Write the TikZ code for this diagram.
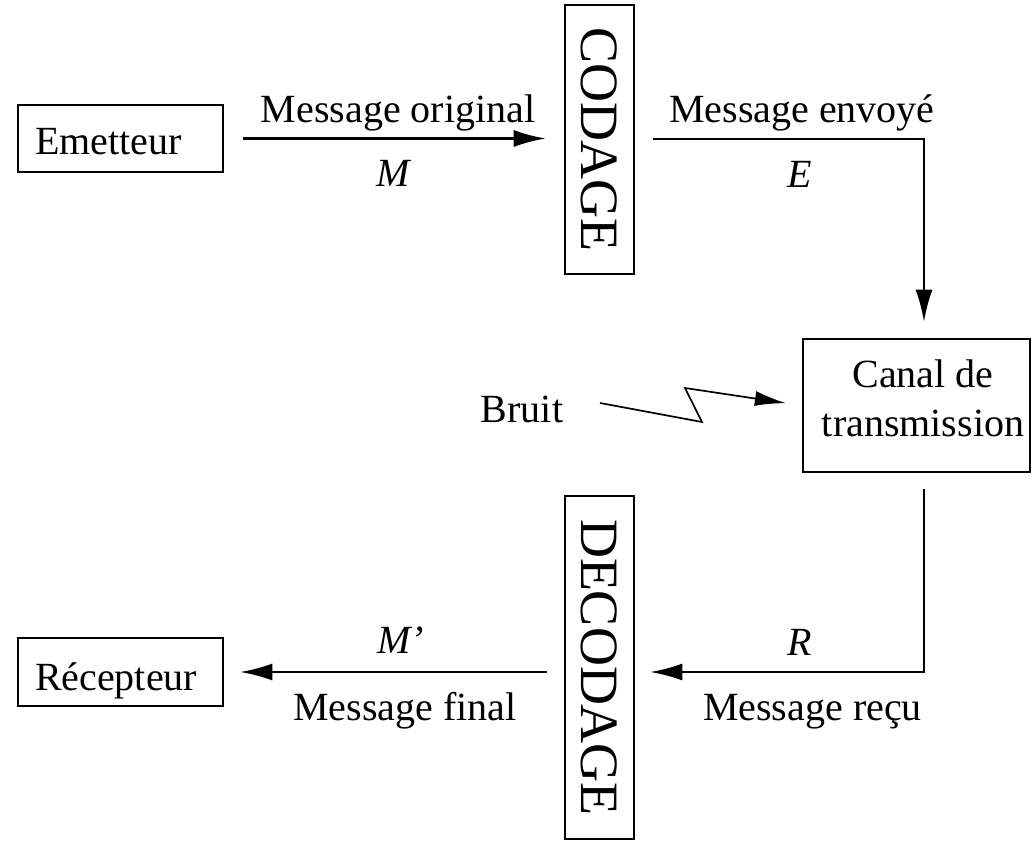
\documentclass[tikz,border=0pt]{standalone}
\usepackage{fontspec}
\setmainfont{Liberation Serif}
\usetikzlibrary{arrows.meta}
\begin{document}
\begin{tikzpicture}[x=1pt,y=-1pt,
  box/.style={draw, line width=2.6pt},
  txt/.style={font=\fontsize{40}{49}\selectfont},
  big/.style={font=\fontsize{54}{60}\selectfont},
  lbl/.style={txt, anchor=base, inner sep=0pt},
  endbox/.style={box, txt, minimum width=205pt, minimum height=67pt, text width=171pt, inner xsep=17pt, inner ysep=0pt, align=left, text depth=0pt},
  vbox/.style={box, big, rotate=-90, minimum height=69pt, inner sep=0pt},
  arr/.style={line width=2.2pt, -{Latex[length=32pt,width=17pt]}},
  zig/.style={line width=1.7pt, -{Latex[length=31pt,width=15pt]}}]
\useasboundingbox (0,0) rectangle (1033,842);

% boxes
\node[endbox, text height=33pt] (em) at (120.5,138.5) {Emetteur};
\node[endbox, text height=36pt, minimum height=68pt] (rec) at (120.5,672) {Récepteur};
\node[vbox, minimum width=269pt] (cod) at (599.5,139.5) {CODAGE};
\node[vbox, minimum width=343pt] (dec) at (599.5,667.5) {DECODAGE};
\node[box, txt, minimum width=227pt, minimum height=133pt, inner sep=0pt, align=center, text depth=15pt] (canal) at (916.5,405.5) {\hspace*{13pt}Canal de\\\hspace*{13pt}transmission};

% labels
\node[lbl] (lmo) at (398,123) {Message original};
\node[lbl] (lM) at (394.5,187) {\textit{M}};
\node[lbl] (lme) at (802,123) {Message envoyé};
\node[lbl] (lE) at (799.5,188) {\textit{E}};
\node[lbl] (bruit) at (522,422) {Bruit};
\node[lbl] (lR) at (799.5,655) {\textit{R}};
\node[lbl] (lmr) at (812.5,720) {Message reçu};
\node[lbl] (lMp) at (400.5,653) {\textit{M’}};
\node[lbl] (lmf) at (405,720) {Message final};

% helper coordinates
\coordinate (k1) at (924,139);
\coordinate (k2) at (924,672);
\coordinate (z0) at (600,403);
\coordinate (z1) at (702,422);
\coordinate (z2) at (685,388);

% connectors
\draw[arr, shorten <=19pt, shorten >=18pt] (em.east) -- (em.east -| cod.south);
\draw[arr, shorten <=18pt, shorten >=16pt] (cod.north |- k1) -- (k1) -- (k1 |- canal.north);
\draw[arr, shorten <=16pt, shorten >=15pt] (k2 |- canal.south) -- (k2) -- (dec.north |- k2);
\draw[arr, shorten <=17pt, shorten >=16pt] (dec.south |- k2) -- (rec.east |- k2);
\draw[zig, shorten >=16pt] (z0) -- (z1) -- (z2) -- (canal.west);
\end{tikzpicture}
\end{document}
